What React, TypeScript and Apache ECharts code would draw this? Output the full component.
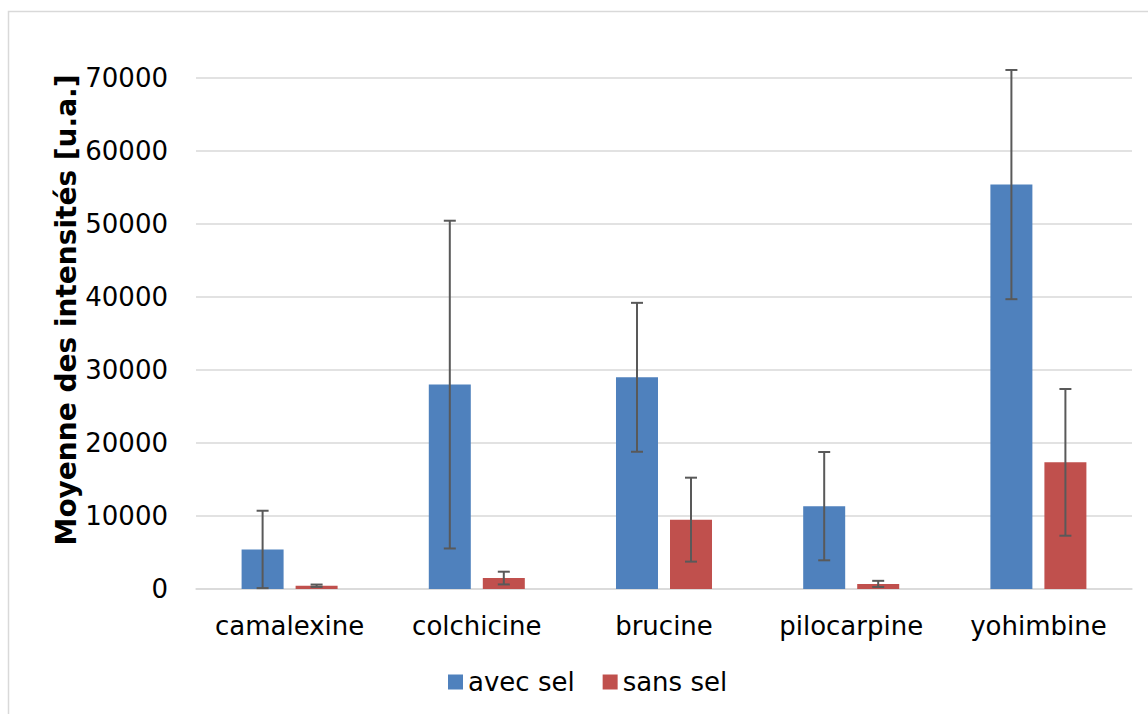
import React, { useEffect, useRef } from "react";
import * as echarts from "echarts";

const categories = ["camalexine", "colchicine", "brucine", "pilocarpine", "yohimbine"];
const avecSel = [5420, 28000, 29000, 11350, 55400];
const avecSelErr = [5300, 22450, 10200, 7420, 15700];
const sansSel = [450, 1500, 9500, 700, 17350];
const sansSelErr = [160, 870, 5750, 420, 10050];
const yTicks = { min: 0, max: 70000, interval: 10000 };

const BLUE = "#4F81BD";
const RED = "#C0504D";
const FONT = "DejaVu Sans";

function errorSeries(name: string, means: number[], errs: number[], offset: number) {
  return {
    type: "custom",
    name: name + "-err",
    silent: true,
    z: 10,
    data: means.map((m, i) => [i, m, errs[i]]),
    renderItem: (params: any, api: any) => {
      const i = api.value(0);
      const m = api.value(1);
      const e = api.value(2);
      const top = api.coord([i, m + e]);
      const bot = api.coord([i, Math.max(0, m - e)]);
      const x = top[0] + offset;
      const cap = 6;
      const style = { stroke: "#595959", lineWidth: 2, fill: "none" };
      return {
        type: "group",
        children: [
          { type: "line", shape: { x1: x, y1: top[1], x2: x, y2: bot[1] }, style },
          { type: "line", shape: { x1: x - cap, y1: top[1], x2: x + cap, y2: top[1] }, style },
          { type: "line", shape: { x1: x - cap, y1: bot[1], x2: x + cap, y2: bot[1] }, style },
        ],
      };
    },
  };
}

export default function App() {
  const ref = useRef<HTMLDivElement>(null);
  useEffect(() => {
    if (!ref.current) return;
    const chart = echarts.init(ref.current, null, { renderer: "svg" });
    chart.setOption({
      animation: false,
      backgroundColor: "#ffffff",
      textStyle: { fontFamily: FONT },
      grid: { left: 196, right: 16, top: 78, bottom: 125, containLabel: false },
      legend: {
        data: [
          { name: "avec sel", icon: "rect" },
          { name: "sans sel", icon: "rect" },
        ],
        left: 448,
        top: 669,
        padding: 0,
        itemWidth: 15,
        itemHeight: 15,
        itemGap: 28,
        textStyle: { fontSize: 26, color: "#000", fontFamily: FONT },
      },
      xAxis: {
        type: "category",
        data: categories,
        axisLine: { show: true, lineStyle: { color: "#d9d9d9", width: 1.5 } },
        axisTick: { show: false },
        axisLabel: { fontSize: 26, color: "#000", margin: 24, fontFamily: FONT, interval: 0 },
      },
      yAxis: {
        type: "value",
        min: yTicks.min,
        max: yTicks.max,
        interval: yTicks.interval,
        axisLine: { show: false },
        axisTick: { show: false },
        axisLabel: {
          fontSize: 26,
          color: "#000",
          margin: 28,
          fontFamily: FONT,
          formatter: (v: number) => String(v),
        },
        splitLine: { lineStyle: { color: "#d9d9d9", width: 1.5 } },
      },
      graphic: [
        {
          type: "rect",
          shape: { x: 8.5, y: 11.5, width: 1300, height: 900 },
          style: { fill: "none", stroke: "#d9d9d9", lineWidth: 1.5 },
          silent: true,
        },
        {
          type: "text",
          x: 66,
          y: 310,
          rotation: Math.PI / 2,
          style: {
            text: "Moyenne des intensités [u.a.]",
            fontSize: 28,
            fontWeight: "bold",
            fontFamily: FONT,
            fill: "#000",
            align: "center",
            verticalAlign: "middle",
          },
        },
      ],
      series: [
        {
          name: "avec sel",
          type: "bar",
          data: avecSel,
          barWidth: 42,
          barGap: "28.6%",
          itemStyle: { color: BLUE },
        },
        {
          name: "sans sel",
          type: "bar",
          data: sansSel,
          barWidth: 42,
          barGap: "28.6%",
          itemStyle: { color: RED },
        },
        errorSeries("avec sel", avecSel, avecSelErr, -27),
        errorSeries("sans sel", sansSel, sansSelErr, 27),
      ],
    });
    return () => chart.dispose();
  }, []);
  return (
    <div
      ref={ref}
      style={{ position: "absolute", left: 0, top: 0, width: 1148, height: 714 }}
    />
  );
}
